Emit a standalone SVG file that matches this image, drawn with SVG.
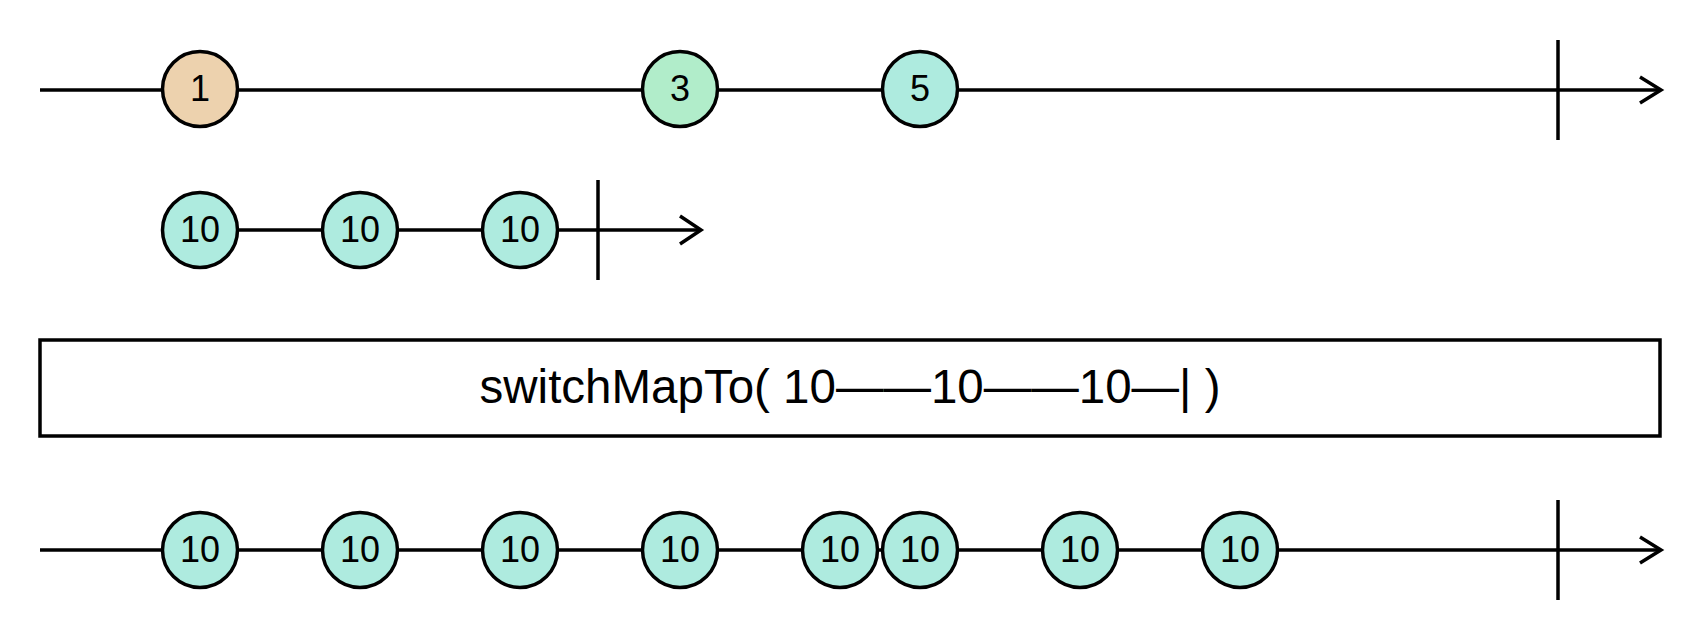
<svg xmlns="http://www.w3.org/2000/svg" width="1700" height="640" viewBox="0 0 1700 640">
<style>
.ln{stroke:#000;stroke-width:3.5;fill:none}
.mk circle{stroke:#000;stroke-width:3.5}
.mk text{font-family:"Liberation Sans",Arial,sans-serif;font-size:36px;text-anchor:middle;fill:#000}
.c1{fill:#EDD2AE}.c3{fill:#B1EDCA}.c5{fill:#AEEBDF}
.op{font-family:"Liberation Sans",Arial,sans-serif;font-size:47.5px;text-anchor:middle;fill:#000}
</style>
<rect width="1700" height="640" fill="#fff"/>
<g id="connectors">
<line class="ln" x1="40" y1="90" x2="1660" y2="90"/>
<polyline class="ln" points="1640,77 1661,90 1640,103"/>
<line class="ln" x1="1558" y1="40" x2="1558" y2="140"/>
<line class="ln" x1="200" y1="230" x2="700" y2="230"/>
<polyline class="ln" points="680,216 701,230 680,244"/>
<line class="ln" x1="598" y1="180" x2="598" y2="280"/>
<line class="ln" x1="40" y1="550" x2="1660" y2="550"/>
<polyline class="ln" points="1640,537 1661,550 1640,563"/>
<line class="ln" x1="1558" y1="500" x2="1558" y2="600"/>
</g>
<g id="src-1" class="mk"><circle class="c1" cx="200" cy="89" r="37.5"/><text x="200" y="101">1</text></g>
<g id="src-3" class="mk"><circle class="c3" cx="680" cy="89" r="37.5"/><text x="680" y="101">3</text></g>
<g id="src-5" class="mk"><circle class="c5" cx="920" cy="89" r="37.5"/><text x="920" y="101">5</text></g>
<g id="inner-1" class="mk"><circle class="c5" cx="200" cy="230" r="37.5"/><text x="200" y="242">10</text></g>
<g id="inner-2" class="mk"><circle class="c5" cx="360" cy="230" r="37.5"/><text x="360" y="242">10</text></g>
<g id="inner-3" class="mk"><circle class="c5" cx="520" cy="230" r="37.5"/><text x="520" y="242">10</text></g>
<g id="operator"><rect x="40" y="340" width="1620" height="96" fill="#fff" stroke="#000" stroke-width="3.5"/><text class="op" x="850" y="403">switchMapTo( 10——10——10—| )</text></g>
<g id="out-1" class="mk"><circle class="c5" cx="200" cy="550" r="37.5"/><text x="200" y="562">10</text></g>
<g id="out-2" class="mk"><circle class="c5" cx="360" cy="550" r="37.5"/><text x="360" y="562">10</text></g>
<g id="out-3" class="mk"><circle class="c5" cx="520" cy="550" r="37.5"/><text x="520" y="562">10</text></g>
<g id="out-4" class="mk"><circle class="c5" cx="680" cy="550" r="37.5"/><text x="680" y="562">10</text></g>
<g id="out-5" class="mk"><circle class="c5" cx="840" cy="550" r="37.5"/><text x="840" y="562">10</text></g>
<g id="out-6" class="mk"><circle class="c5" cx="920" cy="550" r="37.5"/><text x="920" y="562">10</text></g>
<g id="out-7" class="mk"><circle class="c5" cx="1080" cy="550" r="37.5"/><text x="1080" y="562">10</text></g>
<g id="out-8" class="mk"><circle class="c5" cx="1240" cy="550" r="37.5"/><text x="1240" y="562">10</text></g>
</svg>
